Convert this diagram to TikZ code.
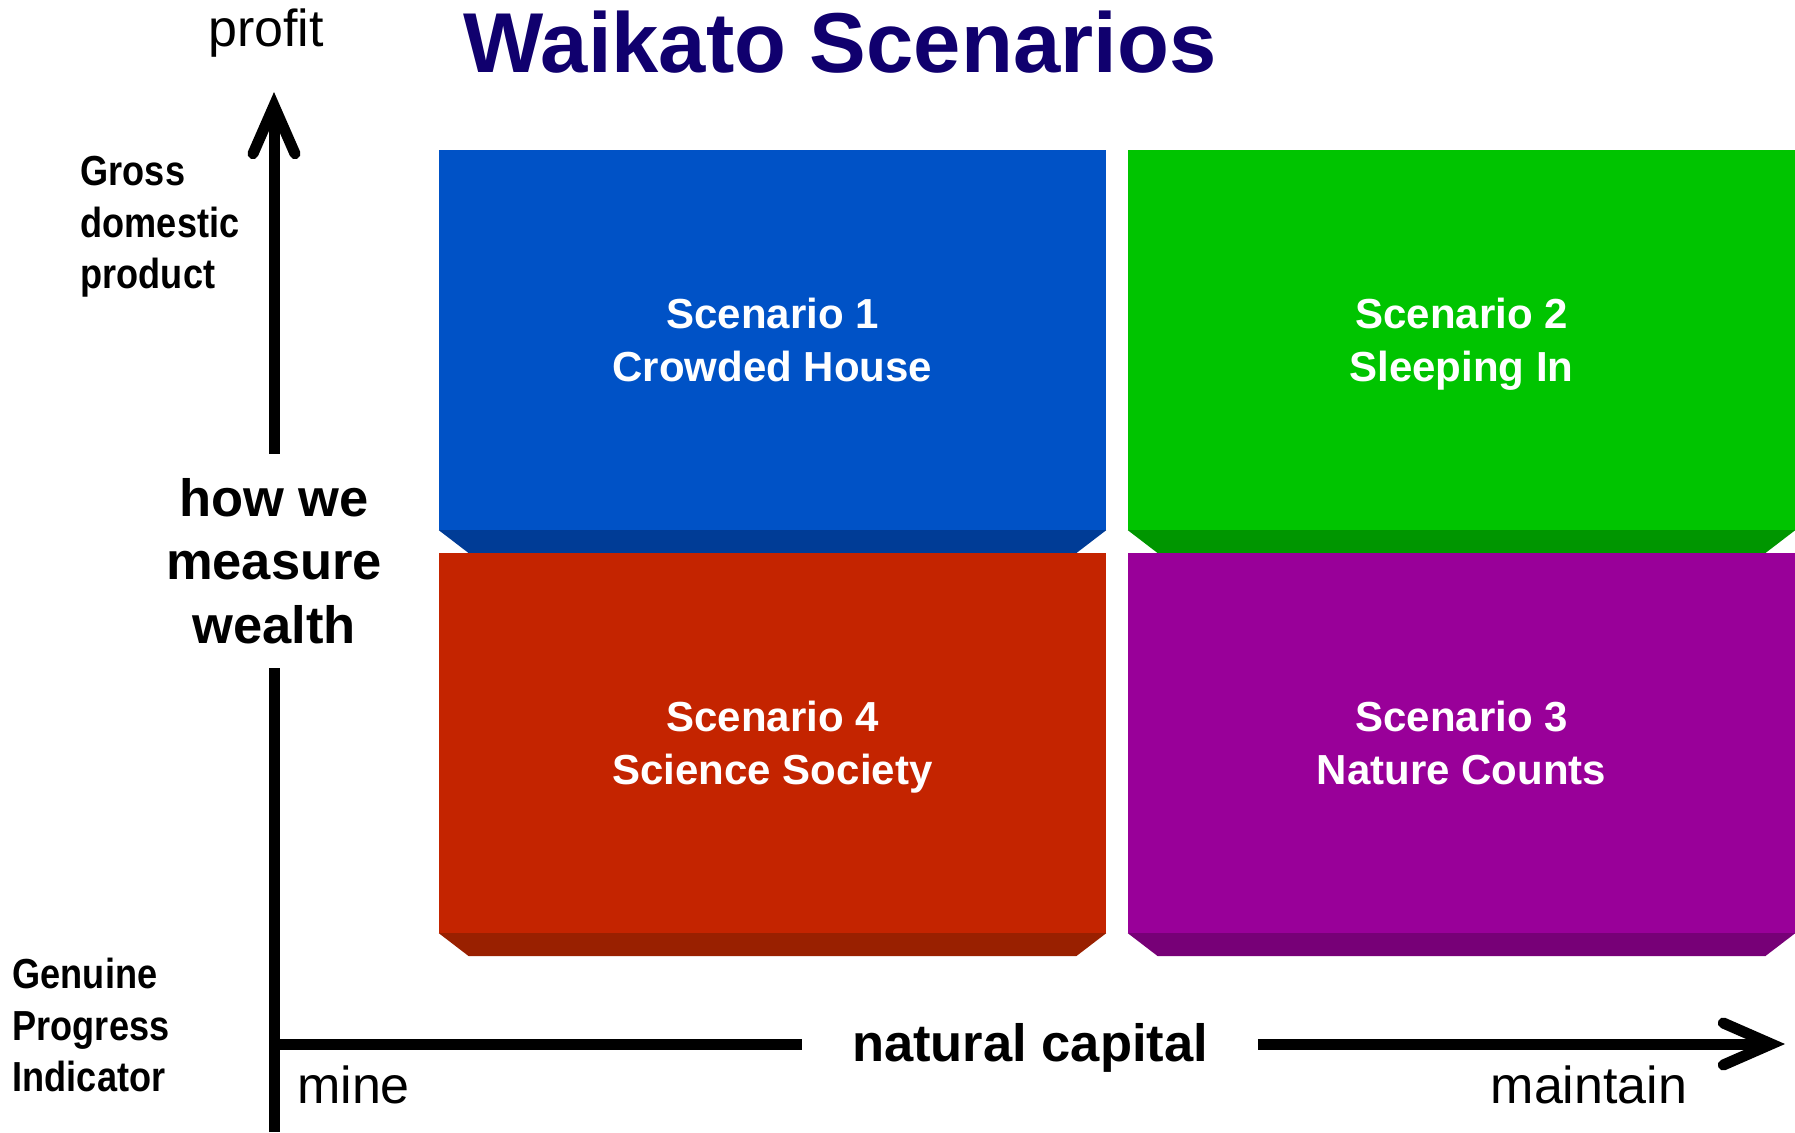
\documentclass[tikz,border=0pt]{standalone}
\usepackage{fontspec}
\setmainfont{Liberation Sans}
\newfontfamily\narrowfont[FakeStretch=0.86]{Liberation Sans}
\usepackage{tikz}
\usetikzlibrary{calc}
\usetikzlibrary{arrows.meta}

\definecolor{titlenavy}{RGB}{16,0,110}
\definecolor{crowdedface}{RGB}{0,82,198}
\definecolor{crowdedbevel}{RGB}{0,60,150}
\definecolor{sleepingface}{RGB}{0,196,0}
\definecolor{sleepingbevel}{RGB}{0,150,0}
\definecolor{natureface}{RGB}{153,0,153}
\definecolor{naturebevel}{RGB}{119,0,119}
\definecolor{scienceface}{RGB}{196,36,0}
\definecolor{sciencebevel}{RGB}{153,32,0}

\begin{document}
\begin{tikzpicture}
    [%
        x=1pt,%
        y=-1pt,%
        scenario box/.style={%
            minimum width=667pt,%
            minimum height=380pt,%
            inner sep=0pt,%
            align=center,%
            text=white,%
            font=\bfseries\fontsize{42}{53}\selectfont%
        },%
        axis line/.style={%
            line width=11pt%
        },%
        axis tip/.style={%
            -{Straight Barb[length=48pt,width=42pt,line cap=round,line join=miter]}%
        },%
        axis end/.style={%
            inner sep=0pt,%
            font=\fontsize{52}{60}\selectfont%
        },%
        measure label/.style={%
            inner sep=0pt,%
            align=left,%
            font=\narrowfont\bfseries\fontsize{42}{51.5}\selectfont%
        },%
        axis name/.style={%
            inner sep=0pt,%
            align=center,%
            font=\bfseries\fontsize{52.5}{63.5}\selectfont%
        }%
    ]%
%
    \useasboundingbox (0,0) rectangle (1795,1132);
%
    \node[inner sep=0pt, anchor=base, text=titlenavy,
        font=\bfseries\fontsize{85}{100}\selectfont] (title) at (840,73) {Waikato Scenarios};
%
    % draw the four scenario boxes, each with its bevel below
    % \name node name
    % \x/\y centre of the box face
    % \face/\bevel fill colours
    % \num/\title scenario number and name
    \foreach \name/\x/\y/\face/\bevel/\num/\title in {%
        crowded-house/772.5/340/crowdedface/crowdedbevel/1/Crowded House,%
        sleeping-in/1461.5/340/sleepingface/sleepingbevel/2/Sleeping In,%
        nature-counts/1461.5/743/natureface/naturebevel/3/Nature Counts,%
        science-society/772.5/743/scienceface/sciencebevel/4/Science Society%
    }{
        \node[scenario box, fill=\face] (\name) at (\x,\y) {Scenario \num\\\smash{\title}};
        \fill[\bevel] (\name.south west) -- (\name.south east)
            -- ++(-30,23) -- ($(\name.south west)+(30,23)$) -- cycle;
    } % \foreach \name
%
    % labels round the axes
    \node[axis end, anchor=base] (profit-label) at (266,47) {profit};
    \node[measure label, anchor=north west] (gdp-label) at (80.5,156) {Gross\\domestic\\product};
    \node[measure label, anchor=north west] (gpi-label) at (12.5,958) {Genuine\\Progress\\Indicator};
    \node[axis name, anchor=north, outer ysep=24.5pt] (wealth-label) at (274,453.5) {how we\\measure\\wealth};
    \node[axis name, anchor=base, outer xsep=50pt] (capital-label) at (1030,1061) {natural capital};
    \node[axis end, anchor=base west] (mine-label) at (297,1103) {mine};
    \node[axis end, anchor=base] (maintain-label) at (1589,1103) {maintain};
%
    % the axes, broken by their names
    \coordinate (origin) at (274,1044);
    \coordinate (y-foot) at (274,1132);
    \coordinate (y-tip) at (274,92);
    \coordinate (x-tip) at (1785,1044);
    \draw[axis line] (y-foot) -- (wealth-label.south);
    \draw[axis line, axis tip] (wealth-label.north) -- (y-tip);
    \draw[axis line] (origin) -- (origin -| capital-label.west);
    \draw[axis line, axis tip] (origin -| capital-label.east) -- (x-tip);
\end{tikzpicture}
\end{document}
